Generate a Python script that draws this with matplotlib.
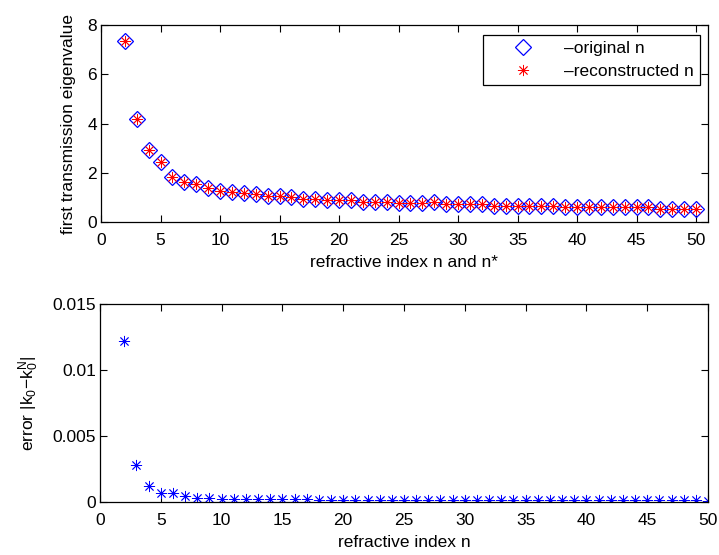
import matplotlib
matplotlib.use("Agg")
import matplotlib.pyplot as plt
from matplotlib.ticker import FuncFormatter

plt.rcParams['font.family'] = ['Liberation Sans', 'DejaVu Sans']
plt.rcParams['mathtext.fontset'] = 'custom'
plt.rcParams['mathtext.rm'] = 'Liberation Sans'
plt.rcParams['mathtext.it'] = 'Liberation Sans:italic'
plt.rcParams['font.size'] = 12.5

# refractive index values n = 2..50
n_values = list(range(2, 51))

# first transmission eigenvalue for the original index
eig_original = [7.37, 4.19, 2.93, 2.45, 1.84, 1.64, 1.53, 1.39, 1.27, 1.22,
                1.18, 1.12, 1.06, 1.06, 1.00, 0.93, 0.93, 0.88, 0.89, 0.89,
                0.83, 0.83, 0.83, 0.77, 0.77, 0.78, 0.80, 0.73, 0.73, 0.73,
                0.73, 0.65, 0.65, 0.65, 0.65, 0.65, 0.65, 0.60, 0.60, 0.60,
                0.60, 0.60, 0.60, 0.60, 0.60, 0.53, 0.53, 0.53, 0.53]

# first transmission eigenvalue for the reconstructed index
eig_reconstructed = [7.37, 4.19, 2.93, 2.45, 1.84, 1.64, 1.53, 1.39, 1.27, 1.22,
                     1.18, 1.12, 1.06, 1.06, 1.00, 0.93, 0.93, 0.88, 0.89, 0.89,
                     0.83, 0.83, 0.83, 0.77, 0.77, 0.78, 0.80, 0.73, 0.73, 0.73,
                     0.73, 0.65, 0.65, 0.65, 0.65, 0.65, 0.65, 0.60, 0.60, 0.60,
                     0.60, 0.60, 0.60, 0.60, 0.60, 0.53, 0.53, 0.53, 0.53]

# absolute error |k0 - k0^N|
error_values = [0.01223, 0.00279, 0.00119, 0.00068, 0.00070, 0.00045, 0.00034, 0.00033,
                0.00025, 0.00025, 0.00025, 0.00025, 0.00025, 0.00025, 0.00025, 0.00025,
                0.00014, 0.00014, 0.00014, 0.00014, 0.00014, 0.00014, 0.00014, 0.00014,
                0.00014, 0.00014, 0.00014, 0.00014, 0.00014, 0.00014, 0.00014, 0.00014,
                0.00014, 0.00014, 0.00012, 0.00012, 0.00012, 0.00012, 0.00012, 0.00012,
                0.00012, 0.00012, 0.00012, 0.00012, 0.00012, 0.00012, 0.00012, 0.00012,
                0.00010]

W, H = 719, 555
fig = plt.figure(figsize=(W / 100, H / 100), dpi=100)

def box(x0, y0, x1, y1):
    return [x0 / W, 1 - y1 / H, (x1 - x0) / W, (y1 - y0) / H]

asterisk = (8, 2, 0)

def style_axes(ax):
    ax.tick_params(direction='in', top=True, right=True, length=5, width=0.8,
                   labelsize=12.5)
    ax.tick_params(axis='x', pad=8)
    ax.tick_params(axis='y', pad=3)
    for s in ax.spines.values():
        s.set_linewidth(0.9)
        s.set_color('black')

# upper panel
ax1 = fig.add_axes(box(101, 25, 708, 222))
ax1.plot(n_values, eig_original, linestyle='none', marker='D', markersize=8,
         markerfacecolor='none', markeredgecolor='blue', markeredgewidth=0.9,
         label='\u2013original n')
ax1.plot(n_values, eig_reconstructed, linestyle='none', marker=asterisk, markersize=8,
         markeredgecolor='red', markeredgewidth=0.6, color='red',
         label='\u2013reconstructed n')
ax1.set_xlim(0, 51)
ax1.set_ylim(0, 8)
ax1.set_xticks(range(0, 51, 5))
ax1.set_yticks(range(0, 9, 2))
ax1.set_xlabel('refractive index n and n*', labelpad=5)
ax1.set_ylabel('first transmission eigenvalue', labelpad=8)
style_axes(ax1)
leg = ax1.legend(loc='upper right', bbox_to_anchor=(0.987, 0.95), fancybox=False,
                 edgecolor='black', framealpha=1, borderaxespad=0,
                 handlelength=4.0, handletextpad=0.35, borderpad=0.35,
                 labelspacing=0.45, fontsize=12.5)
leg.get_frame().set_linewidth(0.9)

# lower panel
ax2 = fig.add_axes(box(100, 304, 708, 502))
ax2.plot(n_values, error_values, linestyle='none', marker=asterisk, markersize=8,
         markeredgecolor='blue', markeredgewidth=0.6, color='blue')
ax2.set_xlim(0, 50)
ax2.set_ylim(0, 0.015)
ax2.set_xticks(range(0, 51, 5))
ax2.set_yticks([0, 0.005, 0.01, 0.015])
ax2.yaxis.set_major_formatter(FuncFormatter(lambda v, p: '%g' % v))
ax2.set_xlabel('refractive index n', labelpad=5)
ax2.set_ylabel(r'error $|\mathregular{k_0}$$-$$\mathregular{k_0^N}|$', labelpad=8)
style_axes(ax2)

fig.savefig('out.png', dpi=100)
